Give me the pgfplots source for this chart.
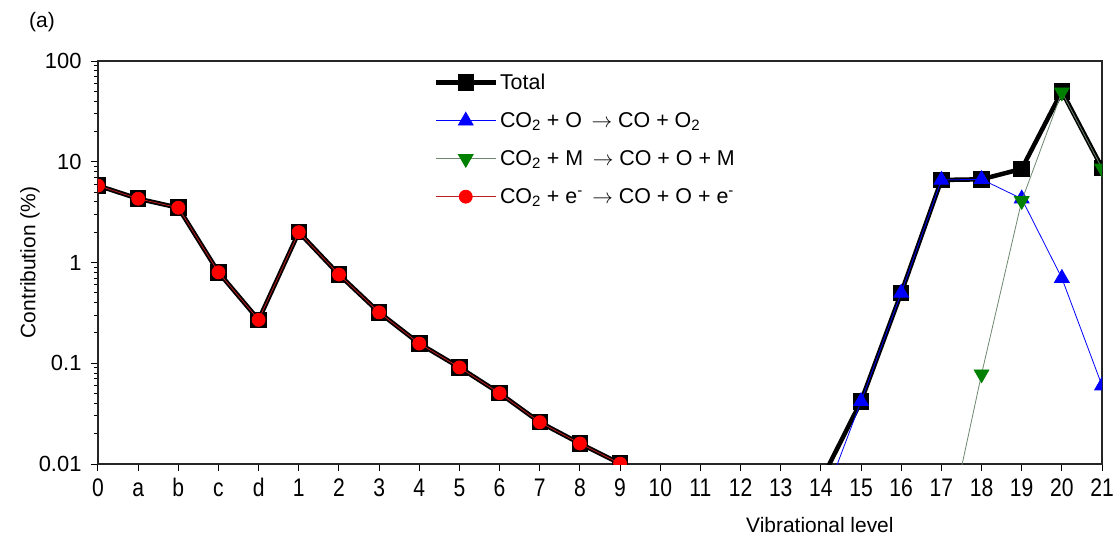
\documentclass[border=0pt]{standalone}
\usepackage{fontspec}
\setmainfont{Liberation Sans}
\newfontfamily\condfont[FakeStretch=0.83]{Liberation Sans}
\usepackage{pgfplots}
\pgfplotsset{compat=1.18}
\definecolor{gline}{RGB}{110,135,110}
\definecolor{gmark}{RGB}{0,128,0}
\definecolor{rline}{RGB}{190,30,30}
\begin{document}
\begin{tikzpicture}
\begin{axis}[
  scale only axis, width=1004bp, height=403bp,
  ymode=log, ymin=0.01, ymax=100,
  xmin=0, xmax=25,
  unbounded coords=jump,
  clip marker paths=true,
  xtick={0,...,25},
  xticklabels={0,a,b,c,d,1,2,3,4,5,6,7,8,9,10,11,12,13,14,15,16,17,18,19,20,21},
  ytick={0.01,0.1,1,10,100},
  yticklabels={0.01,0.1,1,10,100},
  minor ytick={0.02,0.03,0.04,0.05,0.06,0.07,0.08,0.09,0.2,0.3,0.4,0.5,0.6,0.7,0.8,0.9,2,3,4,5,6,7,8,9,20,30,40,50,60,70,80,90},
  tick pos=left, tick align=outside,
  major tick length=7bp, minor tick length=4bp,
  every tick/.style={black, line width=1pt},
  axis line style={line width=1.3pt, black!85},
  xticklabel style={font=\condfont\fontsize{25.5}{25.5}\selectfont, text height=18.5bp, text depth=0bp, yshift=-3bp},
  yticklabel style={font=\fontsize{22}{22}\selectfont, xshift=-6bp},
  xlabel={Vibrational level}, ylabel={Contribution (\%)},
  label style={font=\fontsize{21}{21}\selectfont},
  xlabel style={at={(axis description cs:0.719,-0.151)}, anchor=center},
  ylabel style={at={(axis description cs:-0.0677,0.5)}, anchor=center},
  legend cell align=left,
  legend style={draw=none, fill=none, at={(0.331,0.978)}, anchor=north west,
    font=\fontsize{21.5}{21.5}\selectfont, row sep=17.5bp},
  legend image code/.code={\draw[mark repeat=2,mark phase=2,#1] plot coordinates {(0bp,0bp)(30bp,0bp)(60bp,0bp)};},
]
\addplot[black, line width=4.5bp, mark=square*, mark size=6bp, mark options={solid}]
  coordinates {(0,5.8)(1,4.3)(2,3.5)(3,0.80)(4,0.27)(5,2.0)(6,0.76)(7,0.32)(8,0.157)(9,0.091)(10,0.0505)(11,0.026)(12,0.016)(13,0.0101)(14,nan)
  (18,0.0068)(19,0.042)(20,0.50)(21,6.6)(22,6.7)(23,8.5)(24,50)(25,8.7)};
\addlegendentry{Total}
\addplot[blue, line width=0.8bp, mark=triangle*, mark size=8.5bp, mark options={solid, fill=blue}]
  coordinates {(18,0.0037)(19,0.042)(20,0.50)(21,6.6)(22,6.7)(23,4.3)(24,0.70)(25,0.06)};
\addlegendentry{CO\textsubscript{2} + O\, $\rightarrow$ CO + O\textsubscript{2}}
\addplot[gline, line width=0.8bp, mark=triangle*, mark size=8.5bp, mark options={solid, fill=gmark, draw=gmark, rotate=180}]
  coordinates {(21,0.0011)(22,0.078)(23,4.1)(24,49)(25,8.6)};
\addlegendentry{CO\textsubscript{2} + M\, $\rightarrow$ CO + O + M}
\addplot[rline, line width=0.8bp, mark=*, mark size=6.5bp, mark options={solid, fill=red, draw=red}]
  coordinates {(0,5.8)(1,4.3)(2,3.5)(3,0.80)(4,0.27)(5,2.0)(6,0.76)(7,0.32)(8,0.157)(9,0.091)(10,0.0505)(11,0.026)(12,0.016)(13,0.0101)};
\addlegendentry{CO\textsubscript{2} + e\textsuperscript{-}\, $\rightarrow$ CO + O + e\textsuperscript{-}}
\coordinate (A) at (axis description cs:-0.0558,1.0968);
\coordinate (BL) at (axis description cs:-0.0976,-0.1935);
\coordinate (TR) at (axis description cs:1.0179,1.1514);
\end{axis}
\node[font=\fontsize{21}{21}\selectfont] at (A) {(a)};
\pgfresetboundingbox
\useasboundingbox (BL) rectangle (TR);
\end{tikzpicture}
\end{document}
